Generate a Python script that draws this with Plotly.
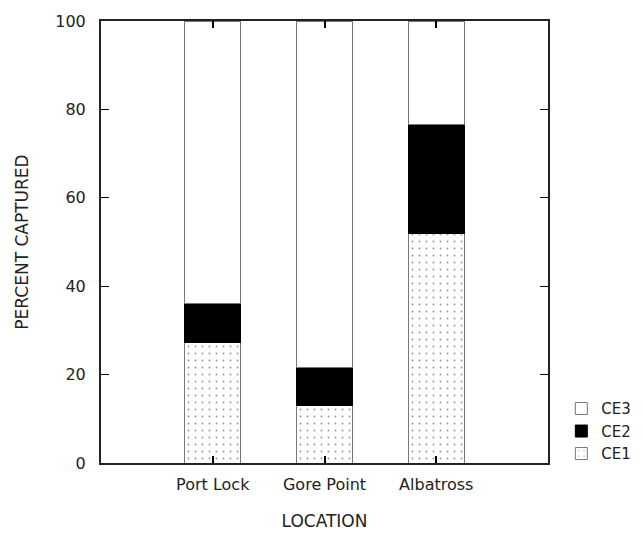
import plotly.graph_objects as go

locations = ["Port Lock", "Gore Point", "Albatross"]
ce1 = [27.2, 13.0, 52.0]
ce2 = [8.8, 8.7, 24.5]
ce3 = [100 - a - b for a, b in zip(ce1, ce2)]
positions = [1, 2, 3]
y_ticks = [0, 20, 40, 60, 80, 100]

font_family = "DejaVu Sans, Liberation Sans, sans-serif"
txt_color = "#222222"

fig = go.Figure()
fig.add_trace(go.Bar(
    x=positions, y=ce1, name="CE1", width=0.5, legendgroup="c", legendrank=3,
    marker=dict(color="white", line=dict(color="#777777", width=1),
                pattern=dict(shape=".", fgcolor="#333333", bgcolor="white",
                             size=7, solidity=0.06)),
))
fig.add_trace(go.Bar(
    x=positions, y=ce2, name="CE2", width=0.5, legendgroup="b", legendrank=2,
    marker=dict(color="black", line=dict(color="black", width=1)),
))
fig.add_trace(go.Bar(
    x=positions, y=ce3, name="CE3", width=0.5, legendgroup="a", legendrank=1,
    marker=dict(color="white", line=dict(color="#777777", width=1)),
))

fig.update_layout(
    barmode="stack",
    width=643, height=533,
    margin=dict(l=101, r=95, t=21, b=70, autoexpand=False),
    paper_bgcolor="white", plot_bgcolor="white",
    font=dict(family=font_family, size=16, color=txt_color),
    showlegend=True,
    legend=dict(
        xref="container", yref="container",
        x=0.873, xanchor="left", y=0.264, yanchor="top",
        traceorder="grouped", tracegroupgap=0,
        font=dict(size=15, color=txt_color),
        bgcolor="rgba(0,0,0,0)", itemwidth=30,
    ),
    xaxis=dict(
        range=[0, 4], tickvals=positions, ticktext=locations,
        ticks="inside", ticklen=7, tickcolor="black", tickwidth=1.5,
        showline=True, linecolor="#222222", linewidth=2, mirror="ticks",
        showgrid=False, zeroline=False, ticklabelstandoff=6,
        title=dict(text="LOCATION", font=dict(size=17, color=txt_color), standoff=22),
        tickfont=dict(size=16, color=txt_color),
    ),
    yaxis=dict(
        range=[0, 100], tickvals=y_ticks,
        ticks="inside", ticklen=8, tickcolor="black", tickwidth=1,
        showline=True, linecolor="#222222", linewidth=2, mirror="ticks",
        showgrid=False, zeroline=False, ticklabelstandoff=10,
        title=dict(text="PERCENT CAPTURED", font=dict(size=17, color=txt_color), standoff=22),
        tickfont=dict(size=16, color=txt_color),
    ),
)

fig.write_html("out.html")
